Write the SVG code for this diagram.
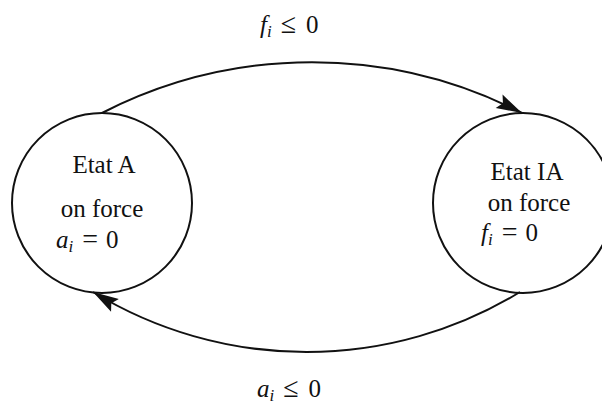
<svg xmlns="http://www.w3.org/2000/svg" width="602" height="405" viewBox="0 0 602 405">
<style>
.node{fill:none;stroke:#111;stroke-width:2}
.edge{fill:none;stroke:#111;stroke-width:2}
text{font-family:"Liberation Serif","Times New Roman",serif;font-size:25px;fill:#111}
.it{font-style:italic}
.sub{font-style:italic;font-size:17px}
.op{font-size:28px}
</style>
<defs>
<marker id="arr" markerUnits="userSpaceOnUse" markerWidth="30" markerHeight="20" viewBox="-26 -8 28 16" refX="0" refY="0" orient="auto">
<path d="M0,0 L-24,-7 L-20,0 L-24,7 Z" fill="#111"/>
</marker>
</defs>
<rect width="602" height="405" fill="#fff"/>
<g id="edges">
<path class="edge" d="M102,113 A460,460 0 0 1 522,113" marker-end="url(#arr)"/>
<path class="edge" d="M520,292 A410,410 0 0 1 93,292" marker-end="url(#arr)"/>
<text x="260" y="33"><tspan class="it">f</tspan><tspan class="sub" dy="4">i</tspan><tspan class="op" dy="-4" dx="9">≤</tspan><tspan dx="10">0</tspan></text>
<text x="257" y="397"><tspan class="it">a</tspan><tspan class="sub" dy="4">i</tspan><tspan class="op" dy="-4" dx="9">≤</tspan><tspan dx="10">0</tspan></text>
</g>
<g id="etatA">
<circle class="node" cx="102" cy="203" r="90"/>
<text x="104" y="173" text-anchor="middle">Etat A</text>
<text x="102" y="217" text-anchor="middle">on force</text>
<text x="56" y="248"><tspan class="it">a</tspan><tspan class="sub" dy="4">i</tspan><tspan class="op" dy="-4" dx="9">=</tspan><tspan dx="8">0</tspan></text>
</g>
<g id="etatIA">
<circle class="node" cx="523" cy="203" r="90"/>
<text x="527" y="180" text-anchor="middle">Etat IA</text>
<text x="529" y="211" text-anchor="middle">on force</text>
<text x="481" y="241"><tspan class="it">f</tspan><tspan class="sub" dy="4">i</tspan><tspan class="op" dy="-4" dx="9">=</tspan><tspan dx="8">0</tspan></text>
</g>
</svg>
